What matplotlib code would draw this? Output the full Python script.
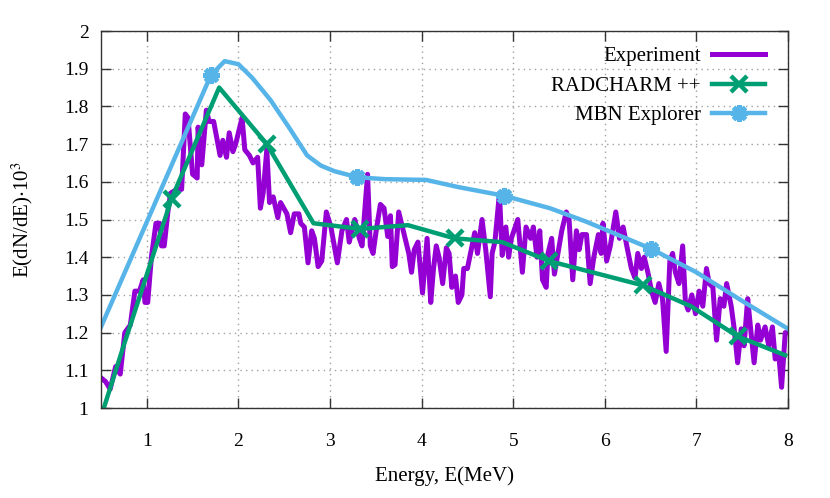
import matplotlib
matplotlib.use("Agg")
import matplotlib.pyplot as plt

plt.rcParams["font.family"] = ["Liberation Serif", "DejaVu Serif"]
plt.rcParams["mathtext.fontset"] = "stix"

# measured spectrum (noisy)
exp_e = [0.50, 0.55, 0.60, 0.66, 0.71, 0.76, 0.82, 0.87, 0.92, 0.96, 0.98, 1.01,
         1.05, 1.10, 1.14, 1.16, 1.19, 1.23, 1.26, 1.33, 1.38, 1.42, 1.45, 1.50,
         1.55, 1.56, 1.60, 1.65, 1.68, 1.73, 1.80, 1.83, 1.87, 1.90, 1.94, 1.97,
         2.04, 2.07, 2.12, 2.16, 2.21, 2.24, 2.27, 2.31, 2.34, 2.38, 2.43, 2.46,
         2.53, 2.57, 2.61, 2.66, 2.68, 2.72, 2.76, 2.80, 2.83, 2.87, 2.91, 2.96,
         3.01, 3.08, 3.13, 3.18, 3.21, 3.27, 3.32, 3.35, 3.41, 3.44, 3.47, 3.51,
         3.55, 3.59, 3.63, 3.66, 3.68, 3.71, 3.75, 3.79, 3.82, 3.86, 3.89, 3.92,
         3.96, 4.01, 4.06, 4.10, 4.13, 4.16, 4.19, 4.23, 4.27, 4.30, 4.33, 4.37,
         4.40, 4.44, 4.46, 4.50, 4.55, 4.58, 4.61, 4.66, 4.70, 4.75, 4.77, 4.80,
         4.85, 4.88, 4.92, 4.95, 4.98, 5.05, 5.10, 5.14, 5.19, 5.22, 5.26, 5.29,
         5.32, 5.36, 5.38, 5.42, 5.45, 5.53, 5.58, 5.61, 5.65, 5.69, 5.72, 5.75,
         5.80, 5.84, 5.88, 5.93, 5.96, 5.98, 6.02, 6.06, 6.12, 6.16, 6.20, 6.24,
         6.29, 6.33, 6.36, 6.40, 6.43, 6.47, 6.51, 6.55, 6.59, 6.63, 6.67, 6.71,
         6.74, 6.77, 6.81, 6.85, 6.88, 6.91, 6.95, 6.99, 7.03, 7.07, 7.11, 7.14,
         7.18, 7.22, 7.26, 7.30, 7.33, 7.38, 7.41, 7.45, 7.49, 7.52, 7.56, 7.59,
         7.63, 7.67, 7.70, 7.75, 7.79, 7.83, 7.86, 7.90, 7.93, 7.97, 8.00]
exp_y = [1.08, 1.07, 1.05, 1.11, 1.09, 1.20, 1.22, 1.31, 1.31, 1.34, 1.28, 1.28,
         1.40, 1.49, 1.49, 1.43, 1.43, 1.52, 1.57, 1.58, 1.58, 1.78, 1.77, 1.62,
         1.61, 1.745, 1.645, 1.79, 1.76, 1.76, 1.67, 1.71, 1.665, 1.73, 1.68, 1.70,
         1.77, 1.685, 1.67, 1.65, 1.665, 1.53, 1.57, 1.685, 1.545, 1.56, 1.505, 1.545,
         1.515, 1.465, 1.515, 1.515, 1.49, 1.48, 1.385, 1.47, 1.45, 1.375, 1.39, 1.52,
         1.48, 1.385, 1.47, 1.50, 1.44, 1.50, 1.45, 1.43, 1.62, 1.43, 1.41, 1.48,
         1.54, 1.53, 1.455, 1.51, 1.375, 1.38, 1.52, 1.48, 1.45, 1.41, 1.36, 1.42,
         1.44, 1.305, 1.45, 1.28, 1.37, 1.43, 1.40, 1.33, 1.425, 1.41, 1.32, 1.35,
         1.28, 1.30, 1.37, 1.37, 1.43, 1.465, 1.41, 1.50, 1.42, 1.295, 1.41, 1.44,
         1.57, 1.405, 1.48, 1.40, 1.45, 1.50, 1.36, 1.48, 1.45, 1.48, 1.40, 1.47,
         1.34, 1.32, 1.41, 1.45, 1.355, 1.47, 1.52, 1.50, 1.34, 1.47, 1.42, 1.46,
         1.46, 1.33, 1.40, 1.46, 1.41, 1.49, 1.39, 1.43, 1.52, 1.45, 1.48, 1.43,
         1.37, 1.345, 1.41, 1.37, 1.40, 1.36, 1.31, 1.28, 1.33, 1.29, 1.15, 1.39,
         1.41, 1.36, 1.33, 1.43, 1.28, 1.26, 1.30, 1.25, 1.31, 1.27, 1.37, 1.33,
         1.32, 1.18, 1.29, 1.27, 1.33, 1.27, 1.215, 1.12, 1.21, 1.165, 1.29, 1.215,
         1.12, 1.22, 1.18, 1.215, 1.165, 1.215, 1.13, 1.14, 1.055, 1.20, 1.20]

# RADCHARM++ simulation
rad_e = [0.25, 0.76, 1.27, 1.79, 2.31, 2.82, 3.33, 3.85, 4.36, 4.88, 5.39, 5.91,
         6.42, 6.94, 7.45, 7.97]
rad_y = [0.785, 1.175, 1.555, 1.85, 1.70, 1.49, 1.475, 1.485, 1.45, 1.44, 1.39,
         1.357, 1.325, 1.27, 1.19, 1.14]
rad_marks = [2, 4, 6, 8, 10, 12, 14]

# MBN Explorer simulation
mbn_e = [0.5, 1.7, 1.85, 2.0, 2.15, 2.35, 2.55, 2.75, 2.9, 3.05, 3.3, 3.6, 4.05,
         4.4, 4.9, 5.4, 5.8, 6.5, 7.0, 7.5, 8.0]
mbn_y = [1.215, 1.883, 1.92, 1.912, 1.876, 1.817, 1.745, 1.67, 1.643, 1.628,
         1.612, 1.607, 1.605, 1.586, 1.563, 1.53, 1.494, 1.423, 1.36, 1.284, 1.21]
mbn_marks = [1, 10, 14, 17]

fig = plt.figure(figsize=(8.3, 4.98), dpi=100)
ax = fig.add_axes([101 / 830, 1 - 408 / 498, 687 / 830, 377 / 498])

ax.plot(exp_e, exp_y, color="#9400d3", lw=3.6, label="Experiment")
ax.plot(rad_e, rad_y, color="#009e73", lw=3.2, marker="x", ms=11, mew=3.2,
        markevery=rad_marks, label="RADCHARM ++")
ax.plot(mbn_e, mbn_y, color="#56b4e9", lw=3.2, marker=(8, 2, 0), ms=12, mew=3.6,
        markevery=mbn_marks, label="MBN Explorer")

ax.set_xlim(0.5, 8)
ax.set_ylim(1, 2)
ax.set_xticks(range(1, 9))
ax.set_yticks([1 + 0.1 * i for i in range(11)])
ax.set_yticklabels(["1", "1.1", "1.2", "1.3", "1.4", "1.5", "1.6", "1.7", "1.8",
                    "1.9", "2"])
ax.grid(True, color="#a0a0a0", linestyle=(0, (1, 3)), lw=1)
ax.tick_params(direction="in", length=7, width=1, top=True, right=True,
               labelsize=14, color="#333333")
ax.tick_params(axis="x", pad=18)
ax.tick_params(axis="y", pad=9)
for sp in ax.spines.values():
    sp.set_color("#333333")
    sp.set_linewidth(1)

ax.set_xlabel("Energy, E(MeV)", fontsize=15, labelpad=12)
ax.set_ylabel(r"E(dN/dE)$\cdot$10$^3$", fontsize=15, labelpad=21)

ax.legend(loc="upper right", bbox_to_anchor=(0.994, 1.008), frameon=False,
          markerfirst=False, fontsize=15, handlelength=2.53, labelspacing=0.48,
          handletextpad=0.57)

fig.savefig("out.png", dpi=100)
